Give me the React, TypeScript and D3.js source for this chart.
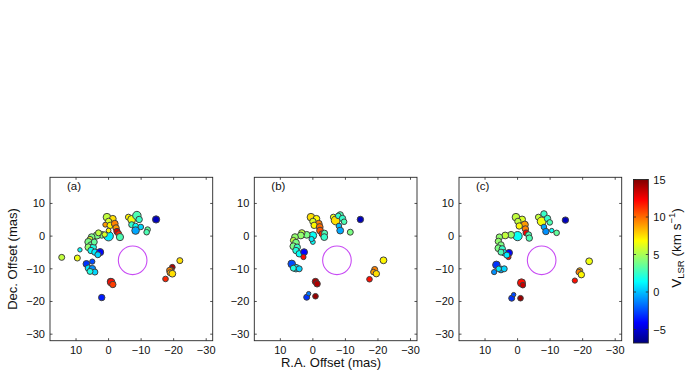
import React from 'react';
import * as d3 from 'd3';

// ---------- data ----------
const raTicks = [10, 0, -10, -20, -30];
const decTicks = [10, 0, -10, -20, -30];
const cbarTicks = [15, 10, 5, 0, -5];
const panelLabels = ['(a)', '(b)', '(c)'];
const raDomain: [number, number] = [18, -32];
const decDomain: [number, number] = [-32, 18];
const velDomain: [number, number] = [-6.8, 15];
// central star / reference ring: [ra, dec, radius]
const ring = [-7.4, -7.4, 4.4];

// [RA offset, Dec offset, V_LSR, size]
const spotsA: number[][] = [
  [0.5, 5.8, 5.5, 3.6], [-1.3, 5.3, 7.5, 3.2], [0.0, 4.5, 6, 3.0], [1.0, 3.5, 9, 2.3],
  [-0.5, 3.3, 7, 3.0], [-1.9, 3.8, 9.5, 3.2], [-2.3, 2.5, 9, 3.0], [-2.6, 1.4, 13, 3.0],
  [-3.1, 0.7, 11.5, 2.8], [-3.5, -0.3, 3, 3.4], [0.0, 0.0, 1, 4.6], [2.1, 0.4, 4, 3.2],
  [3.6, 0.2, 4, 3.4], [3.1, 1.0, 5.5, 2.8], [5.2, -0.3, 4, 3.2], [5.7, -1.0, 6, 2.8],
  [6.2, -1.8, 4, 3.4], [5.4, -2.7, 3.5, 3.0], [6.2, -3.4, 4.5, 3.2], [4.7, -3.4, 2, 3.0],
  [5.4, -4.4, 1.5, 3.0], [4.2, -4.9, 1, 3.0], [2.6, -4.9, -4, 3.4], [3.3, -5.7, 0.5, 2.8],
  [0.0, 1.7, 7, 2.2], [4.4, -1.8, 3.5, 2.8], [1.2, 0.5, 6, 2.5],
  [-6.1, 5.8, 7, 2.8], [-7.1, 5.1, 6.5, 3.8], [-8.7, 6.3, 3, 4.0], [-9.4, 5.1, 2.5, 3.0],
  [-7.1, 3.5, 2.5, 2.8], [-8.3, 3.1, 1.5, 2.6], [-9.9, 2.8, 0.5, 2.6], [-8.3, 1.7, -0.5, 3.6],
  [-12.0, 2.0, 3.5, 2.6], [-11.7, 1.2, 3, 2.6], [-14.6, 5.1, -5.5, 3.4],
  [14.4, -6.5, 5.5, 2.8], [9.6, -6.7, 6.5, 2.8], [8.8, -4.2, 1.5, 2.0],
  [6.8, -8.5, -3, 3.2], [5.0, -7.8, -2.5, 2.4], [6.2, -9.8, 1, 3.0], [5.0, -10.0, -1, 3.2],
  [4.2, -11.0, 0.5, 2.8], [5.7, -10.8, 2, 2.8],
  [-0.6, -13.9, 14, 3.0], [-0.8, -14.1, 12, 3.6], [-1.3, -14.8, 11, 3.0], [2.1, -18.8, -3.5, 3.0],
  [-21.9, -7.5, 7.5, 2.8], [-19.6, -9.5, 14, 2.6], [-19.2, -10.3, 11, 2.6], [-18.8, -10.5, 9.5, 3.0],
  [-18.9, -11.2, 9, 2.8], [-19.6, -11.5, 7.5, 3.2], [-17.5, -13.1, 11.5, 2.6],
];

const spotsB: number[][] = [
  [0.6, 5.8, 7.5, 3.6], [-1.1, 5.3, 7, 3.2], [0.0, 4.5, 6, 3.0], [-1.8, 3.8, 9.5, 3.2],
  [-0.4, 3.3, 7, 3.0], [-2.1, 2.8, 10, 3.2], [-2.2, 1.7, 10.5, 3.2], [-2.8, 0.7, 11.5, 2.8],
  [-3.6, 0.9, 3, 2.8], [-3.5, -0.3, 2.5, 3.2], [0.0, 0.2, 1.5, 3.6], [1.9, 0.4, 4, 3.2],
  [3.4, 1.0, 5.5, 3.0], [3.7, 0.2, 4.5, 3.2], [5.5, -0.3, 4.5, 3.2], [6.0, -1.3, 5.5, 2.8],
  [5.2, -2.0, 4, 3.2], [6.0, -3.1, 4, 3.2], [4.8, -3.4, 2.5, 3.0], [5.2, -4.4, 2, 3.0],
  [4.2, -5.4, 1.5, 3.0], [2.7, -4.9, -4, 3.2], [2.9, -6.4, 12, 2.4], [0.0, -1.8, 1.5, 2.2],
  [0.4, -0.9, 1, 2.4],
  [-6.3, 5.8, 6.5, 2.8], [-7.0, 4.8, 7.5, 4.2], [-8.4, 6.5, 3, 3.0], [-7.8, 6.2, 2.5, 2.6],
  [-9.1, 5.4, 2.5, 3.0], [-9.6, 4.4, 3, 2.6], [-8.0, 3.1, 0, 2.6], [-8.4, 1.7, -0.5, 3.2],
  [-11.5, 1.2, 4, 2.8], [-14.6, 5.1, -5.5, 3.0],
  [6.5, -8.5, -2.5, 3.6], [5.2, -9.8, 1, 3.6], [6.0, -9.8, 2, 2.8], [4.2, -10.0, 0.5, 2.8],
  [-0.8, -13.9, 14, 3.0], [-1.3, -14.6, 14, 3.0],
  [1.9, -18.7, -3, 2.8], [1.3, -17.6, -1.5, 2.0], [-0.8, -18.4, 14.5, 2.6],
  [-21.7, -7.4, 7, 3.2], [-19.0, -10.2, 9.5, 2.8], [-18.6, -11.0, 9, 2.6], [-19.5, -11.5, 7.5, 3.0],
  [-17.4, -13.2, 12, 2.6],
];

const spotsC: number[][] = [
  [0.5, 5.8, 5.5, 3.6], [-1.4, 5.1, 6, 3.2], [-0.1, 4.5, 5.5, 3.0], [-2.2, 3.5, 9, 3.4],
  [-0.5, 3.1, 7, 3.0], [-2.4, 2.2, 9.5, 3.0], [-2.6, 1.0, 12.5, 2.8], [-3.4, 0.4, 3, 2.8],
  [-3.6, -0.6, 3, 3.0], [0.0, 0.0, 1.5, 4.4], [2.0, 0.4, 4.5, 3.2], [3.8, 0.2, 5.5, 3.2],
  [5.6, -0.3, 4.5, 3.0], [5.9, -1.6, 4.5, 3.0], [5.1, -2.7, 4, 3.0], [5.9, -3.7, 4, 3.2],
  [4.7, -3.9, 2.5, 3.0], [4.1, -5.1, 1.5, 3.0], [2.6, -5.1, -4, 3.2], [2.8, -6.4, 12, 2.4],
  [5.1, -4.9, 3, 2.8], [3.3, -5.8, 1, 2.8],
  [-6.4, 5.8, 5.5, 2.8], [-7.4, 4.5, 6.5, 4.2], [-8.1, 6.8, 2.5, 3.0], [-9.2, 5.4, 2.5, 3.0],
  [-9.9, 4.2, 3, 2.6], [-8.1, 2.8, -0.5, 2.6], [-8.7, 1.4, -1, 3.0], [-10.5, 1.7, 1.5, 2.0],
  [-12.0, 1.0, 3.5, 2.6], [-14.7, 4.9, -5.5, 3.0],
  [6.5, -8.8, -3, 3.6], [5.1, -10.2, -0.5, 3.2], [7.2, -11.0, -1, 2.4], [4.1, -10.0, 0.5, 2.8],
  [5.8, -10.0, 1, 2.6],
  [-1.2, -14.3, 12, 3.8], [-1.6, -15.0, 13.5, 2.6], [1.8, -19.0, -3, 2.8], [1.2, -17.9, -2.5, 2.0],
  [-0.9, -19.0, 14.5, 2.6],
  [-22.0, -7.7, 6.5, 3.2], [-19.1, -10.6, 8.5, 2.8], [-18.8, -11.0, 9.5, 2.6], [-19.6, -11.8, 7, 3.0],
  [-17.6, -13.6, 12, 2.4],
];

const panels = [spotsA, spotsB, spotsC];

// ---------- layout ----------
const W = 698, H = 378;
const panelLeft = [50, 254.3, 459];
const panelTop = 177.3;
const panelW = 162.7;
const panelH = 163.4;
const cbar = { x: 633.5, w: 14.8, top: 179.5, bottom: 343 };
const FONT = "'Liberation Sans', Arial, Helvetica, sans-serif";
const AX = '#262626';

function jet(t: number): string {
  const c = (v: number) => Math.max(0, Math.min(1, v));
  const r = c(1.5 - Math.abs(4 * t - 3));
  const g = c(1.5 - Math.abs(4 * t - 2));
  const b = c(1.5 - Math.abs(4 * t - 1));
  return d3.rgb(r * 255, g * 255, b * 255).formatHex();
}

const velNorm = d3.scaleLinear().domain(velDomain).range([0, 1]).clamp(true);

function Panel({ idx }: { idx: number }) {
  const x0 = panelLeft[idx];
  const xs = d3.scaleLinear().domain(raDomain).range([x0, x0 + panelW]);
  const ys = d3.scaleLinear().domain(decDomain).range([panelTop + panelH, panelTop]);
  const data = panels[idx];
  const tl = 2.5;
  const ringPx = Math.abs(xs(ring[2]) - xs(0));
  return (
    <g>
      <rect x={x0} y={panelTop} width={panelW} height={panelH} fill="white" stroke={AX} strokeWidth={0.9} />
      {raTicks.map((t) => (
        <g key={'x' + t}>
          <line x1={xs(t)} x2={xs(t)} y1={panelTop + panelH} y2={panelTop + panelH - tl} stroke={AX} strokeWidth={0.8} />
          <line x1={xs(t)} x2={xs(t)} y1={panelTop} y2={panelTop + tl} stroke={AX} strokeWidth={0.8} />
          <text x={xs(t)} y={panelTop + panelH + 13.5} textAnchor="middle" fontSize={11} fontFamily={FONT} fill="#111">
            {t < 0 ? '\u2212' + Math.abs(t) : String(t)}
          </text>
        </g>
      ))}
      {decTicks.map((t) => (
        <g key={'y' + t}>
          <line x1={x0} x2={x0 + tl} y1={ys(t)} y2={ys(t)} stroke={AX} strokeWidth={0.8} />
          <line x1={x0 + panelW} x2={x0 + panelW - tl} y1={ys(t)} y2={ys(t)} stroke={AX} strokeWidth={0.8} />
          <text x={x0 - 5} y={ys(t) + 4} textAnchor="end" fontSize={11} fontFamily={FONT} fill="#111">
            {t < 0 ? '\u2212' + Math.abs(t) : String(t)}
          </text>
        </g>
      ))}
      <text x={x0 + 17} y={panelTop + 12.5} fontSize={11.5} fontFamily={FONT} fill="#111">{panelLabels[idx]}</text>
      <circle cx={xs(ring[0])} cy={ys(ring[1])} r={ringPx} fill="none" stroke="#c84cf4" strokeWidth={1.1} />
      {data.map((d, i) => (
        <circle key={i} cx={xs(d[0])} cy={ys(d[1])} r={d[3] + 0.2} fill={jet(velNorm(d[2]))} stroke="#404040" strokeWidth={1} />
      ))}
    </g>
  );
}

function Colorbar() {
  const cs = d3.scaleLinear().domain(velDomain).range([cbar.bottom, cbar.top]);
  const stops = d3.range(0, 65).map((i) => i / 64);
  return (
    <g>
      <defs>
        <linearGradient id="jetGrad" x1="0" y1="1" x2="0" y2="0">
          {stops.map((s) => (
            <stop key={s} offset={s} stopColor={jet(s)} />
          ))}
        </linearGradient>
      </defs>
      <rect x={cbar.x} y={cbar.top} width={cbar.w} height={cbar.bottom - cbar.top} fill="url(#jetGrad)" stroke={AX} strokeWidth={0.9} />
      {cbarTicks.map((t) => (
        <g key={t}>
          <line x1={cbar.x + cbar.w} x2={cbar.x + cbar.w - 2.5} y1={cs(t)} y2={cs(t)} stroke={AX} strokeWidth={0.8} />
          <line x1={cbar.x} x2={cbar.x + 2.5} y1={cs(t)} y2={cs(t)} stroke={AX} strokeWidth={0.8} />
          <text x={cbar.x + cbar.w + 5} y={cs(t) + 4} fontSize={11} fontFamily={FONT} fill="#111">
            {t < 0 ? '\u2212' + Math.abs(t) : String(t)}
          </text>
        </g>
      ))}
      <text transform={`translate(681, 248) rotate(-90)`} textAnchor="middle" fontSize={13.5} fontFamily={FONT} fill="#111">
        <tspan>V</tspan>
        <tspan fontSize={9.5} dy={3}>LSR</tspan>
        <tspan dy={-3}> (km s</tspan>
        <tspan fontSize={9.5} dy={-6}>{'\u22121'}</tspan>
        <tspan dy={6}>)</tspan>
      </text>
    </g>
  );
}

export default function App() {
  return (
    <svg width={W} height={H} style={{ position: 'absolute', left: 0, top: 0, background: 'white' }}>
      <rect x={0} y={0} width={W} height={H} fill="white" />
      {[0, 1, 2].map((i) => (
        <Panel key={i} idx={i} />
      ))}
      <Colorbar />
      <text transform={`translate(17, 259) rotate(-90)`} textAnchor="middle" fontSize={13} fontFamily={FONT} fill="#111">
        Dec. Offset (mas)
      </text>
      <text x={331} y={367} textAnchor="middle" fontSize={13} fontFamily={FONT} fill="#111">
        R.A. Offset (mas)
      </text>
    </svg>
  );
}
